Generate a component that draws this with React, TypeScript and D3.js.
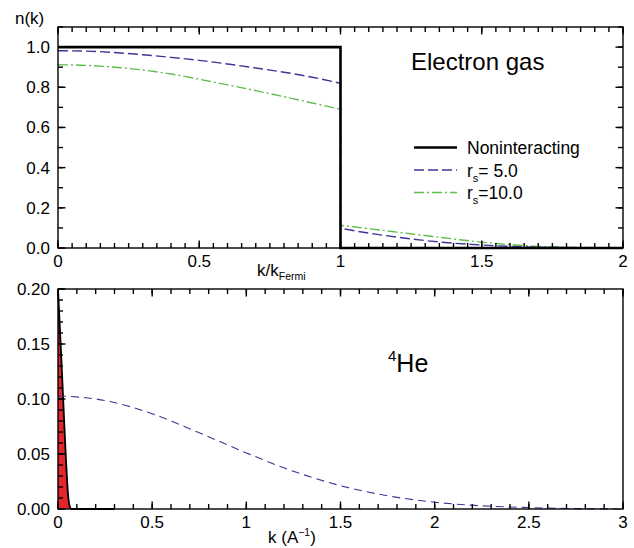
import React from 'react';
import * as d3 from 'd3';

// top panel: electron gas, k in units of k_Fermi
const kBelow = [0, 0.1, 0.2, 0.3, 0.4, 0.5, 0.6, 0.7, 0.8, 0.9, 1.0];
const kAbove = [1.0, 1.1, 1.2, 1.3, 1.4, 1.5, 1.6, 1.7, 1.8, 1.9, 2.0];
const rs5Below = [0.982, 0.98, 0.973, 0.962, 0.949, 0.934, 0.916, 0.896, 0.875, 0.85, 0.82];
const rs5Above = [0.098, 0.074, 0.054, 0.037, 0.024, 0.015, 0.008, 0.004, 0.002, 0.001, 0];
const rs10Below = [0.912, 0.909, 0.9, 0.886, 0.866, 0.84, 0.812, 0.783, 0.753, 0.722, 0.69];
const rs10Above = [0.113, 0.096, 0.079, 0.062, 0.045, 0.029, 0.017, 0.008, 0.004, 0.002, 0];
const freeK = [0, 1, 1, 2];
const freeN = [1, 1, 0, 0];
const legendLabels = ['Noninteracting', ' 5.0', '10.0'];

// bottom panel: 4He
const heK = [0, 0.25, 0.5, 0.75, 1.0, 1.25, 1.5, 1.75, 2.0, 2.25, 2.5, 2.75, 3.0];
const heN = [0.103, 0.0986, 0.0866, 0.0693, 0.051, 0.0343, 0.0212, 0.012, 0.0062, 0.0029, 0.0013, 0.0004, 0];
const spikeK = [0, 0.005, 0.01, 0.015, 0.02, 0.025, 0.03, 0.035, 0.04, 0.045, 0.05, 0.055, 0.06, 0.065, 0.07, 0.08, 0.3];
const spikeN = [0.2, 0.182, 0.164, 0.146, 0.128, 0.109, 0.09, 0.071, 0.053, 0.036, 0.021, 0.01, 0.004, 0.001, 0, 0, 0];

const FONT = '"Liberation Sans", Arial, sans-serif';
const BLUE = '#3f3594';
const GREEN = '#62bd4f';
const LEFT = 58;
const RIGHT = 623;

const xTop = d3.scaleLinear().domain([0, 2]).range([LEFT, RIGHT]);
const yTop = d3.scaleLinear().domain([0, 1.1]).range([248, 27]);
const xBot = d3.scaleLinear().domain([0, 3]).range([LEFT, RIGHT]);
const yBot = d3.scaleLinear().domain([0, 0.2]).range([509, 289]);

const Frame = ({ x, y, xMinor, xMajor, yMinor, yMajor, yFmt, rightTicks }) => {
  const [x0, x1] = x.range();
  const [y0, y1] = y.range();
  const marks = [];
  const add = (vals, size) => {
    vals.forEach(v => {
      marks.push([x(v), y0, x(v), y0 - size]);
      marks.push([x(v), y1, x(v), y1 + size]);
    });
  };
  const addY = (vals, size) => {
    vals.forEach(v => {
      marks.push([x0, y(v), x0 + size, y(v)]);
      if (rightTicks) marks.push([x1, y(v), x1 - size, y(v)]);
    });
  };
  add(xMinor, 5);
  add(xMajor, 7.5);
  addY(yMinor, 5);
  addY(yMajor, 7.5);
  return (
    <g>
      {marks.map((m, i) => (
        <line key={i} x1={m[0]} y1={m[1]} x2={m[2]} y2={m[3]} stroke="#000" strokeWidth={1.4} />
      ))}
      <rect x={x0} y={y1} width={x1 - x0} height={y0 - y1} fill="none" stroke="#000" strokeWidth={1.4} />
      {xMajor.map(v => (
        <text key={'x' + v} x={x(v)} y={y0 + 19} textAnchor="middle" fontFamily={FONT} fontSize={17}>
          {d3.format('')(v)}
        </text>
      ))}
      {yMajor.map(v => (
        <text key={'y' + v} x={x0 - 8} y={y(v)} dy="0.35em" textAnchor="end" fontFamily={FONT} fontSize={17}>
          {yFmt(v)}
        </text>
      ))}
    </g>
  );
};

const smoothTop = d3.line().x(d => xTop(d[0])).y(d => yTop(d[1])).curve(d3.curveMonotoneX);
const lineTop = d3.line().x(d => xTop(d[0])).y(d => yTop(d[1]));
const jumpPath = (below, above) => {
  const a = smoothTop(kBelow.map((k, i) => [k, below[i]]));
  const b = smoothTop(kAbove.map((k, i) => [k, above[i]]));
  return a + b.replace(/^M/, 'L');
};

const area = d3.area().x(d => xBot(d[0])).y0(yBot(0)).y1(d => yBot(d[1])).curve(d3.curveMonotoneX);
const lineBot = d3.line().x(d => xBot(d[0])).y(d => yBot(d[1])).curve(d3.curveMonotoneX);

const App = () => {
  const spike = spikeK.map((k, i) => [k, spikeN[i]]);
  const styles = [
    { stroke: '#000', width: 2.6, dash: undefined },
    { stroke: BLUE, width: 1.4, dash: '10,4' },
    { stroke: GREEN, width: 1.4, dash: '10,3,2,3' },
  ];
  return (
    <svg width={634} height={548} style={{ position: 'absolute', left: 0, top: 0, background: '#fff' }}>
      {/* top panel */}
      <path d={jumpPath(rs10Below, rs10Above)} fill="none" stroke={GREEN} strokeWidth={1.4} strokeDasharray="10,3,2,3" />
      <path d={jumpPath(rs5Below, rs5Above)} fill="none" stroke={BLUE} strokeWidth={1.4} strokeDasharray="10,4" />
      <path d={lineTop(freeK.map((k, i) => [k, freeN[i]]))} fill="none" stroke="#000" strokeWidth={2.6} />
      <Frame x={xTop} y={yTop} xMinor={xTop.ticks(40)} xMajor={xTop.ticks(4)}
        yMinor={yTop.ticks(11)} yMajor={yTop.ticks(5)} yFmt={d3.format('.1f')} rightTicks />

      <text x={15} y={24} fontFamily={FONT} fontSize={17}>n(k)</text>
      <text x={257} y={276} fontFamily={FONT} fontSize={17}>
        k/k<tspan dy={4} fontSize={10.5}>Fermi</tspan>
      </text>
      <text x={411} y={70} fontFamily={FONT} fontSize={24}>Electron gas</text>

      {legendLabels.map((label, i) => {
        const y = 147.5 + i * 22.5;
        return (
          <g key={label}>
            <line x1={414} x2={457} y1={y} y2={y} stroke={styles[i].stroke}
              strokeWidth={styles[i].width} strokeDasharray={styles[i].dash} />
            <text x={467} y={y + 6.5} fontFamily={FONT} fontSize={17.5}>
              {i === 0 ? label : (
                <>
                  <tspan>r</tspan>
                  <tspan dy={5} fontSize={11}>s</tspan>
                  <tspan dy={-5}>{'=' + label}</tspan>
                </>
              )}
            </text>
          </g>
        );
      })}

      {/* bottom panel */}
      <path d={area(spike)} fill="#e3252f" />
      <path d={lineBot(spike)} fill="none" stroke="#000" strokeWidth={1.8} />
      <path d={lineBot(heK.map((k, i) => [k, heN[i]]))} fill="none" stroke={BLUE}
        strokeWidth={1.1} strokeDasharray="8,5" />
      <Frame x={xBot} y={yBot} xMinor={xBot.ticks(30)} xMajor={xBot.ticks(6)}
        yMinor={yBot.ticks(20)} yMajor={yBot.ticks(4)} yFmt={d3.format('.2f')} rightTicks={false} />

      <text x={268} y={543} fontFamily={FONT} fontSize={17}>
        k (A<tspan dy={-7} fontSize={10.5}>{'\u22121'}</tspan><tspan dy={7}>)</tspan>
      </text>
      <text x={388} y={372} fontFamily={FONT} fontSize={25}>
        <tspan dy={-11} fontSize={15}>4</tspan><tspan dy={11}>He</tspan>
      </text>
    </svg>
  );
};

export default App;
